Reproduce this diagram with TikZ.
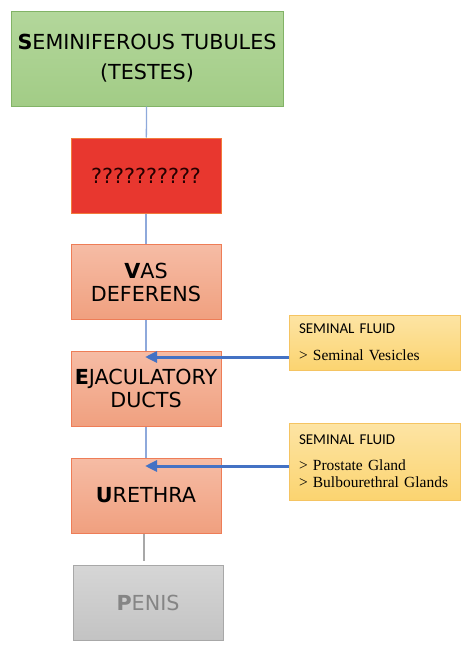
\documentclass[tikz,border=0pt]{standalone}
\usepackage{fontspec}
\setmainfont{DejaVu Sans}
\newfontfamily\headfont{Carlito}
\newfontfamily\listfont{Liberation Serif}
\usepackage{xcolor}
\usetikzlibrary{positioning,arrows.meta}

\definecolor{testtop}{HTML}{B3D79B}
\definecolor{testbot}{HTML}{A2CC86}
\definecolor{testline}{HTML}{82B366}
\definecolor{redfill}{HTML}{E8372F}
\definecolor{redline}{HTML}{F27A3C}
\definecolor{salmontop}{HTML}{F6BCA5}
\definecolor{salmonbot}{HTML}{F0A07F}
\definecolor{salmonline}{HTML}{EE7D57}
\definecolor{greytop}{HTML}{D6D6D6}
\definecolor{greybot}{HTML}{C3C3C3}
\definecolor{greyline}{HTML}{A8A8A8}
\definecolor{greytext}{HTML}{858585}
\definecolor{yeltop}{HTML}{FDE4A4}
\definecolor{yelbot}{HTML}{FBD470}
\definecolor{yelline}{HTML}{F5C462}
\definecolor{linkblue}{HTML}{8EA9DB}
\definecolor{feedblue}{HTML}{4472C4}

\begin{document}
\begin{tikzpicture}[x=1pt,y=-1pt,
    organ/.style={draw=salmonline, line width=1pt, top color=salmontop, bottom color=salmonbot,
        minimum width=150pt, minimum height=75pt, inner sep=0pt, align=center,
        font=\fontsize{20.7}{23}\selectfont},
    fluid/.style={draw=yelline, line width=1pt, top color=yeltop, bottom color=yelbot,
        minimum width=171pt, inner xsep=10pt, text width=151pt, align=left,
        font=\listfont\fontsize{15.5}{17}\selectfont},
    link/.style={draw=linkblue, line width=1.3pt},
    feed/.style={draw=feedblue, line width=3pt, -{Triangle[length=12pt,width=11pt]}}]

    \useasboundingbox[fill=white] (0,0) rectangle (476,653);

    % main route
    \node[organ, draw=testline, top color=testtop, bottom color=testbot, minimum width=272pt,
        minimum height=95pt, font=\fontsize{20.7}{30}\selectfont] (testes) at (147,58.5)
        {\textbf{S}EMINIFEROUS TUBULES\\(TESTES)};
    \node[organ, draw=redline, fill=redfill, top color=redfill, bottom color=redfill,
        text=black!85!red] (mystery) at (146,175.5) {??????????};
    \node[organ] (vas) at (146,282) {\textbf{V}AS\\DEFERENS};
    \node[organ] (ejac) at (146,388.5) {\textbf{E}JACULATORY\\DUCTS};
    \node[organ] (urethra) at (146,495.5) {\textbf{U}RETHRA};
    \node[organ, draw=greyline, top color=greytop, bottom color=greybot, text=greytext]
        (penis) at (148,602.5) {\textbf{P}ENIS};

    \draw[link] (testes) -- (mystery);
    \draw[link] (mystery) -- (vas);
    \draw[link] (vas) -- (ejac);
    \draw[link] (ejac) -- (urethra);
    \draw[draw=greyline, line width=1.3pt] ([xshift=-2pt]urethra.south) -- ([xshift=-4pt,yshift=4pt]penis.north);

    % glands
    \node[fluid, minimum height=55pt] (vesicles) at (374.5,342.5)
        {{\headfont\fontsize{15}{17}\selectfont SEMINAL FLUID}\\[10pt]
         > Seminal Vesicles};
    \node[fluid, minimum height=77pt] (glands) at (374.5,461.5)
        {{\headfont\fontsize{15}{17}\selectfont SEMINAL FLUID}\\[9pt]
         > Prostate Gland\\> Bulbourethral Glands};

    \coordinate (ejacin) at (145,357);
    \coordinate (urethrain) at (145,466);
    \draw[feed] (vesicles.west |- ejacin) -- (ejacin);
    \draw[feed] (glands.west |- urethrain) -- (urethrain);
\end{tikzpicture}
\end{document}
